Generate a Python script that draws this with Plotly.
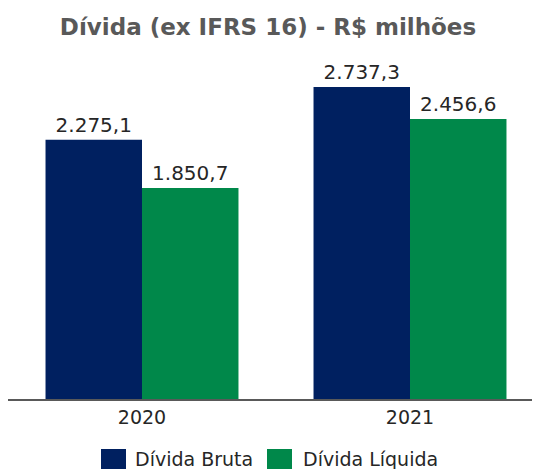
import plotly.graph_objects as go

categories = ["2020", "2021"]
series_names = ["Dívida Bruta", "Dívida Líquida"]
divida_bruta = [2275.1, 2737.3]
divida_liquida = [1850.7, 2456.6]
colors = ["#002060", "#00884A"]

# page body has an 8px margin, so the figure is drawn 8px in from the top-left
OFF = 8
W, H = 540 - OFF, 469 - OFF
L, R, T, B = 0, 0, 52, 70
plot_w = W - L - R
plot_h = H - T - B

def px_x(p):  # reference-picture x pixel -> paper
    return (p - OFF - L) / plot_w

def px_y(p):  # reference-picture y pixel -> paper
    return (H - B - (p - OFF)) / plot_h

font_family = "DejaVu Sans, Verdana, sans-serif"

fig = go.Figure()
for name, vals, col in zip(series_names, [divida_bruta, divida_liquida], colors):
    fig.add_trace(go.Bar(
        x=categories, y=vals, name=name,
        marker=dict(color=col, line=dict(width=0)),
        texttemplate="%{y:,.1f}", textposition="outside",
        textfont=dict(family=font_family, size=20, color="#262626"),
        cliponaxis=False, showlegend=False,
    ))

# manual legend (larger swatches like the reference)
legend_items = [(101, 126, 133), (267, 292, 301)]
for (x0, x1, tx), name, col in zip(legend_items, series_names, colors):
    fig.add_shape(type="rect", xref="paper", yref="paper",
                  x0=px_x(x0), x1=px_x(x1), y0=px_y(449), y1=px_y(469),
                  fillcolor=col, line=dict(width=0))
    fig.add_annotation(xref="paper", yref="paper", x=px_x(tx), y=px_y(459),
                       xanchor="left", yanchor="middle", showarrow=False,
                       text=name, font=dict(family=font_family, size=19, color="#262626"))

fig.update_layout(
    width=W, height=H,
    margin=dict(l=L, r=R, t=T, b=B, pad=0),
    paper_bgcolor="white", plot_bgcolor="white",
    separators=",.",
    barmode="group", bargap=0.28, bargroupgap=0,
    title=dict(text="<b>Dívida (ex IFRS 16) - R$ milhões</b>",
               x=(268 - OFF) / W, xanchor="center", y=1 - (27 - OFF) / H, yanchor="middle",
               xref="container", yref="container",
               font=dict(family=font_family, size=23, color="#595959")),
    xaxis=dict(range=[-0.5, -0.5 + plot_w / 268], showline=True, linecolor="#595959",
               linewidth=2, ticks="", showgrid=False, zeroline=False,
               tickfont=dict(family=font_family, size=19, color="#262626")),
    yaxis=dict(range=[0, 2974], visible=False, showgrid=False, zeroline=False),
)

fig.write_html("out.html")
